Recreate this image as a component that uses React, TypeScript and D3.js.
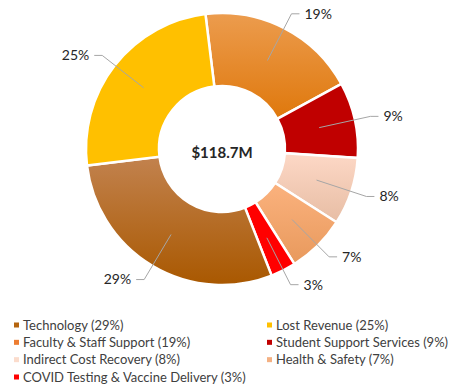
import * as d3 from "d3";
import { useRef, useEffect } from "react";

const categories = [
    "Faculty & Staff Support",
    "Student Support Services",
    "Indirect Cost Recovery",
    "Health & Safety",
    "COVID Testing & Vaccine Delivery",
    "Technology",
    "Lost Revenue",
];
const shares = [19, 9, 8, 7, 3, 29, 25];
const topColors = ["#ec9c4e", "#c00000", "#fdd8c6", "#fbb27e", "#ff0000", "#c2824e", "#ffc000"];
const bottomColors = ["#df780c", "#c00000", "#e7bda4", "#e8995c", "#ff0000", "#a95800", "#ffc000"];
const swatchColors = ["#ed7d31", "#c00000", "#fbdccc", "#f4b183", "#ff0000", "#b5650f", "#ffc000"];

const legendOrder = [5, 6, 0, 1, 2, 3, 4];
const totalLabel = "$118.7M";

export default function App() {
    const ref = useRef<SVGSVGElement | null>(null);

    useEffect(() => {
        const svg = d3.select(ref.current);
        svg.selectAll("*").remove();

        const width = 450;
        const height = 391;
        svg.attr("width", width).attr("height", height);

        const cx = 222;
        const cy = 149;
        const outer = 136;
        const inner = 63;
        const start = (-7 * Math.PI) / 180;

        const pie = d3.pie<number>()
            .sort(null)
            .value((d) => d)
            .startAngle(start)
            .endAngle(start + 2 * Math.PI);
        const arcs = pie(shares);

        const arc = d3.arc<d3.PieArcDatum<number>>()
            .innerRadius(inner)
            .outerRadius(outer);
        const elbowArc = d3.arc<d3.PieArcDatum<number>>()
            .innerRadius(152)
            .outerRadius(152);

        const defs = svg.append("defs");
        shares.forEach((_, i) => {
            const g = defs.append("linearGradient")
                .attr("id", "grad" + i)
                .attr("x1", 0).attr("y1", 0).attr("x2", 0).attr("y2", 1);
            g.append("stop").attr("offset", "0%").attr("stop-color", topColors[i]);
            g.append("stop").attr("offset", "100%").attr("stop-color", bottomColors[i]);
        });

        const g = svg.append("g").attr("transform", `translate(${cx},${cy})`);

        g.selectAll("path.slice")
            .data(arcs)
            .enter()
            .append("path")
            .attr("class", "slice")
            .attr("d", arc)
            .attr("fill", (_, i) => `url(#grad${i})`)
            .attr("stroke", "#fff")
            .attr("stroke-width", 2.5)
            .attr("stroke-linejoin", "miter");

        // leader lines + labels
        arcs.forEach((a) => {
            const [x0, y0] = arc.centroid(a);
            const [ex, ey] = elbowArc.centroid(a);
            const mid = (a.startAngle + a.endAngle) / 2;
            const right = Math.sin(mid) > 0;
            const hx = ex + (right ? 8 : -8);
            g.append("polyline")
                .attr("points", `${x0},${y0} ${ex},${ey} ${hx},${ey}`)
                .attr("fill", "none")
                .attr("stroke", "#a6a6a6")
                .attr("stroke-width", 1);
            g.append("text")
                .attr("x", hx + (right ? 5 : -5))
                .attr("y", ey)
                .attr("dy", "0.35em")
                .attr("text-anchor", right ? "start" : "end")
                .attr("font-family", "Lato, sans-serif")
                .attr("font-size", 14)
                .attr("fill", "#262626")
                .text(a.data + "%");
        });

        g.append("text")
            .attr("x", 0)
            .attr("y", 4)
            .attr("dy", "0.35em")
            .attr("text-anchor", "middle")
            .attr("font-family", "Lato, sans-serif")
            .attr("font-weight", "bold")
            .attr("font-size", 15)
            .attr("fill", "#262626")
            .text(totalLabel);

        // legend
        const colX = [14, 267];
        const rowY = d3.scalePoint<number>().domain([0, 1, 2, 3]).range([325, 377]);
        legendOrder.forEach((idx, k) => {
            const col = k % 2;
            const row = Math.floor(k / 2);
            const x = colX[col];
            const y = rowY(row)!;
            svg.append("rect")
                .attr("x", x)
                .attr("y", y - 2.5)
                .attr("width", 5)
                .attr("height", 5)
                .attr("fill", swatchColors[idx]);
            svg.append("text")
                .attr("x", x + 9)
                .attr("y", y)
                .attr("dy", "0.35em")
                .attr("font-family", "Lato, sans-serif")
                .attr("font-size", 13)
                .attr("fill", "#404040")
                .text(`${categories[idx]} (${shares[idx]}%)`);
        });
    }, []);

    return <svg ref={ref} style={{ position: "absolute", left: 0, top: 0 }}></svg>;
}
